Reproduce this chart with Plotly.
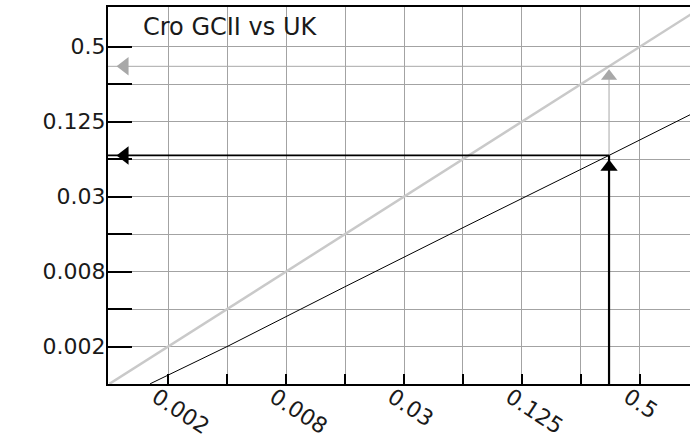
import math
import plotly.graph_objects as go

# ---- data ----
tick_vals = [2**-9, 2**-8, 2**-7, 2**-6, 2**-5, 2**-4, 2**-3, 2**-2, 2**-1]
tick_text = ["0.002", "", "0.008", "", "0.03", "", "0.125", "", "0.5"]

# plot area runs 4 px past the right edge of the picture (reference is cropped there)
x_range = [2**-10.02, 2**-0.082]
y_range = [2**-10.0, 2**0.06]

identity_x = [0.00098, 0.95]
identity_y = [0.00098, 0.95]

curve_x = [0.00158, 0.0039, 0.0156, 0.0625, 0.348, 0.95]
curve_y = [0.00098, 0.00195, 0.0059, 0.0176, 0.067, 0.148]

input_value = 0.348
gray_output = 0.348
black_output = 0.067

left_arrow_x = 0.00117      # arrowheads at the y axis
black_up_arrow_y = 0.054    # arrowheads on the vertical line
gray_up_arrow_y = 0.29

title_text = "Cro GCII vs UK"

GRAY_LINE = "#c9c9c9"
GRAY_ARROW = "#a8a8a8"
BLACK = "#000000"

fig = go.Figure()

# identity (gray diagonal)
fig.add_trace(go.Scatter(x=identity_x, y=identity_y, mode="lines",
                         line=dict(color=GRAY_LINE, width=2.5), hoverinfo="skip"))
# gray horizontal & vertical guides
fig.add_trace(go.Scatter(x=[x_range[0], x_range[1]], y=[gray_output, gray_output], mode="lines",
                         line=dict(color=GRAY_ARROW, width=1), hoverinfo="skip"))
fig.add_trace(go.Scatter(x=[input_value, input_value], y=[y_range[0], gray_up_arrow_y], mode="lines",
                         line=dict(color=GRAY_ARROW, width=1), hoverinfo="skip"))
# black curve
fig.add_trace(go.Scatter(x=curve_x, y=curve_y, mode="lines",
                         line=dict(color=BLACK, width=1), hoverinfo="skip"))
# black guides
fig.add_trace(go.Scatter(x=[x_range[0], input_value], y=[black_output, black_output], mode="lines",
                         line=dict(color=BLACK, width=1.8), hoverinfo="skip"))
fig.add_trace(go.Scatter(x=[input_value, input_value], y=[y_range[0], black_output], mode="lines",
                         line=dict(color=BLACK, width=2.2), hoverinfo="skip"))
# arrowheads
fig.add_trace(go.Scatter(x=[left_arrow_x], y=[gray_output], mode="markers",
                         marker=dict(symbol="triangle-left", size=16, color=GRAY_ARROW), hoverinfo="skip"))
fig.add_trace(go.Scatter(x=[input_value], y=[gray_up_arrow_y], mode="markers",
                         marker=dict(symbol="triangle-up", size=14, color=GRAY_ARROW), hoverinfo="skip"))
fig.add_trace(go.Scatter(x=[left_arrow_x], y=[black_output], mode="markers",
                         marker=dict(symbol="triangle-left", size=16, color=BLACK), hoverinfo="skip"))
fig.add_trace(go.Scatter(x=[input_value], y=[black_up_arrow_y], mode="markers",
                         marker=dict(symbol="triangle-up", size=15, color=BLACK), hoverinfo="skip"))

tick_font = dict(family="DejaVu Sans", size=22, color="#1a1a1a")

fig.update_xaxes(type="log", range=[math.log10(v) for v in x_range],
                 tickmode="array", tickvals=tick_vals, ticktext=tick_text,
                 tickangle=33, tickfont=tick_font,
                 ticklabelstandoff=-10, ticklabelshift=-12,
                 showgrid=True, gridcolor="#a3a3a3", gridwidth=1,
                 showline=True, linecolor=BLACK, linewidth=2, mirror=True,
                 ticks="inside", ticklen=10, tickwidth=2, tickcolor=BLACK,
                 zeroline=False, fixedrange=True, automargin=False)
fig.update_yaxes(type="log", range=[math.log10(v) for v in y_range],
                 tickmode="array", tickvals=tick_vals, ticktext=tick_text,
                 tickfont=tick_font, ticklabelstandoff=-4,
                 showgrid=True, gridcolor="#a3a3a3", gridwidth=1,
                 showline=True, linecolor=BLACK, linewidth=2, mirror=False,
                 ticks="inside", ticklen=24, tickwidth=2, tickcolor=BLACK,
                 zeroline=False, fixedrange=True, automargin=False)

fig.add_annotation(text=title_text, xref="paper", yref="paper",
                   x=(141 - 108) / 586, y=1 - (27 - 7) / 377,
                   xanchor="left", yanchor="middle", showarrow=False,
                   font=dict(family="DejaVu Sans", size=24, color="#1a1a1a"))

fig.update_layout(width=694, height=439,
                  margin=dict(l=108, r=0, t=7, b=55, autoexpand=False),
                  plot_bgcolor="white", paper_bgcolor="white",
                  showlegend=False, hovermode=False)

fig.write_html("out.html",
               config={"displayModeBar": False, "staticPlot": True},
               post_script="document.documentElement.style.margin='0px';document.documentElement.style.overflow='hidden';document.body.style.margin='0px';document.body.style.overflow='hidden';")
